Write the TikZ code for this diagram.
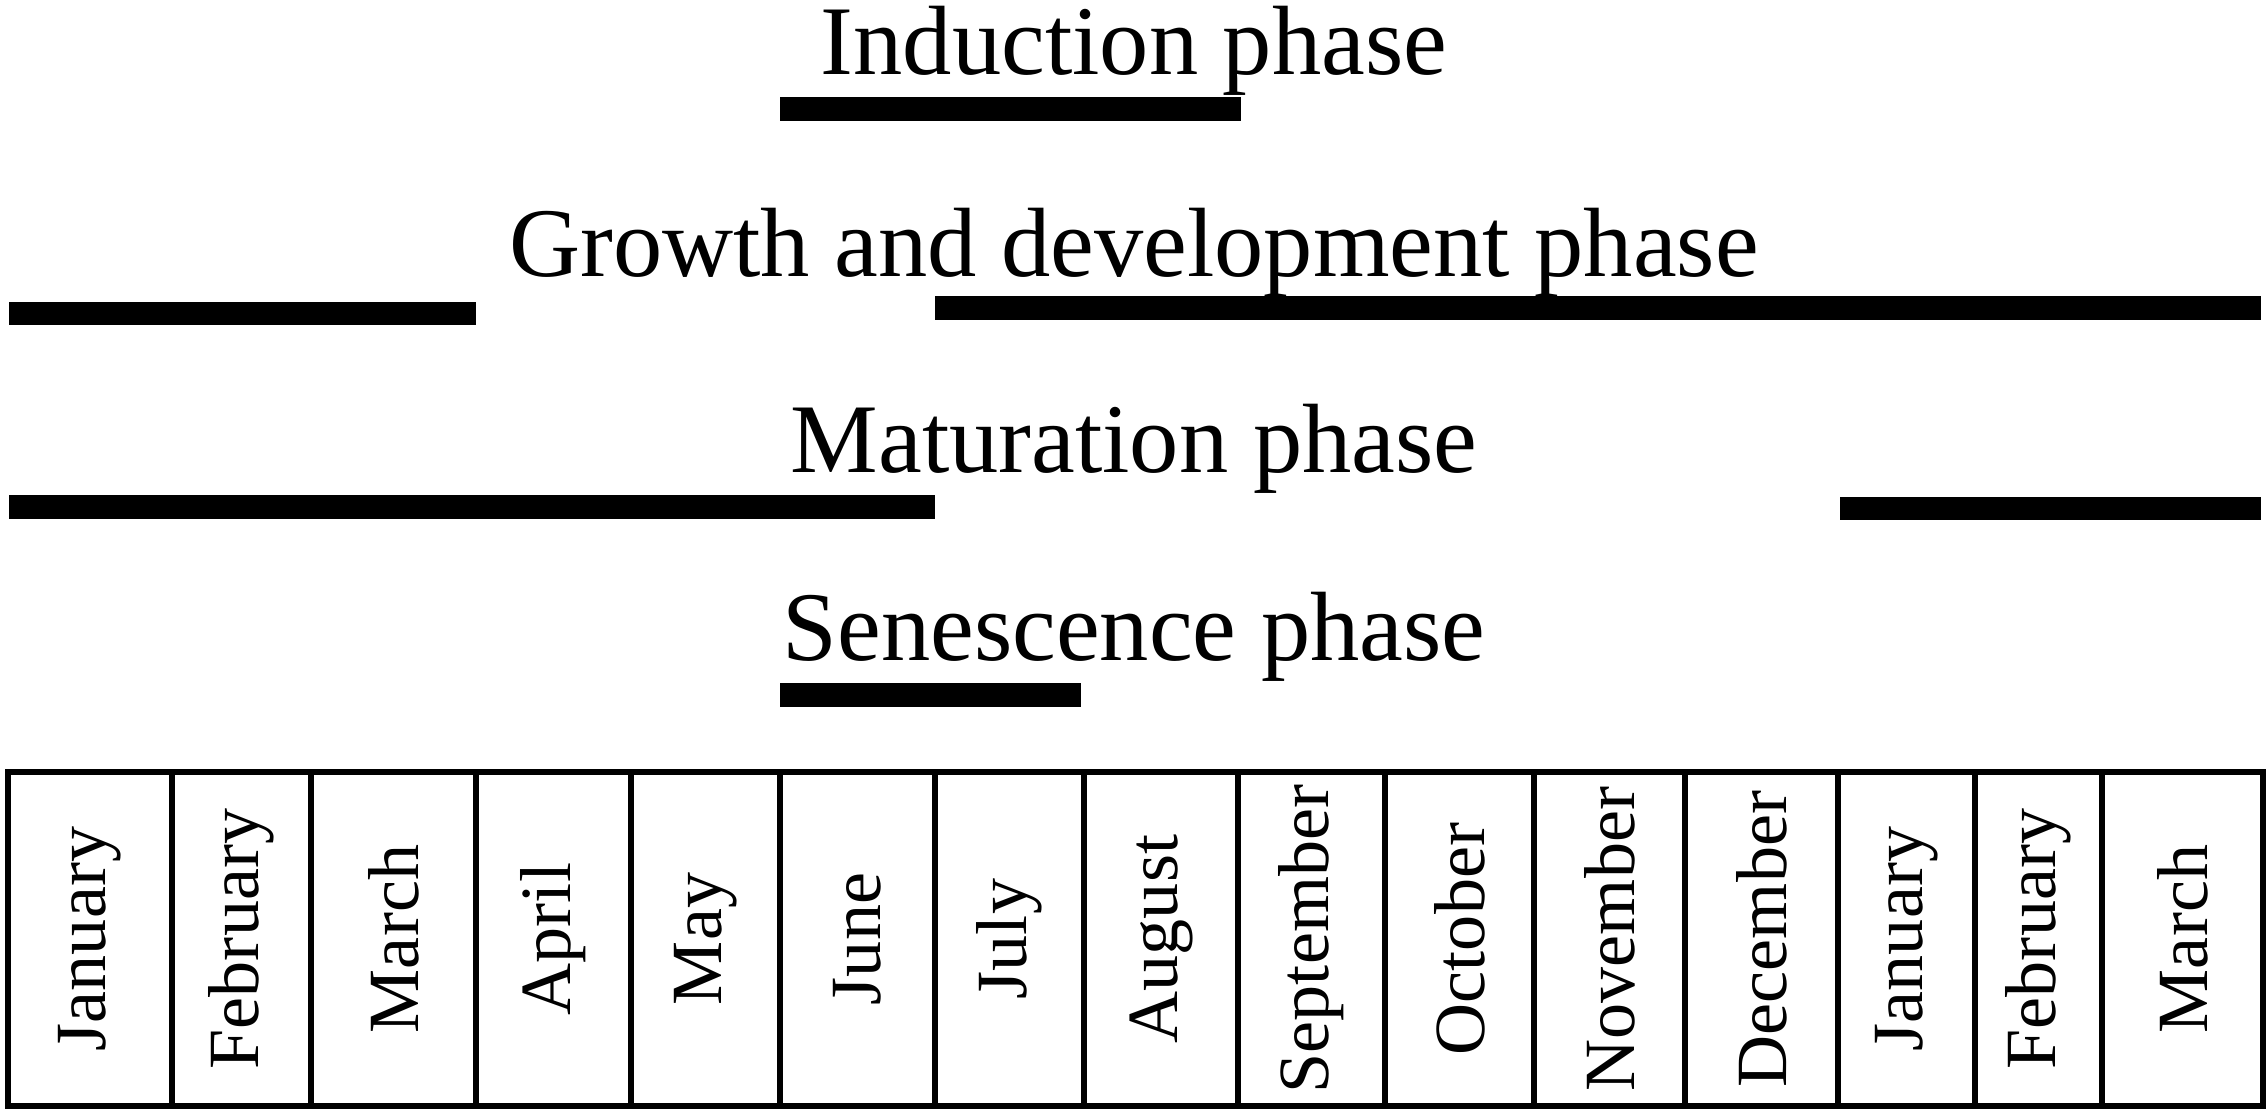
\documentclass[tikz,border=0pt]{standalone}
\usepackage{fontspec}
\setmainfont{Liberation Serif}
\usepackage{tikz}
\tikzstyle{phase} = [anchor=base, 
inner sep=0pt, 
font=\fontsize{28}{30}\selectfont]
\tikzstyle{phasebar} = [fill=black]
\tikzstyle{month} = [rotate=90, 
inner sep=0pt, 
font=\fontsize{20.5}{22}\selectfont]
\tikzstyle{cell} = [draw=black, line width=1.6pt]

\begin{document}
\begin{tikzpicture}[x=0.01cm, y=-0.01cm]
        \useasboundingbox (0,0) rectangle (2267,1115);

        \node (induction) [phase] at (1134,74) {Induction phase};
        \node (growth) [phase] at (1134,276) {Growth and development phase};
        \node (maturation) [phase] at (1134,472) {Maturation phase};
        \node (senescence) [phase] at (1134,660) {Senescence phase};

        \fill [phasebar] (780,97) rectangle (1241,121);
        \fill [phasebar] (9,302) rectangle (476,325);
        \fill [phasebar] (935,296) rectangle (2261,320);
        \fill [phasebar] (9,495) rectangle (935,519);
        \fill [phasebar] (1840,497) rectangle (2261,520);
        \fill [phasebar] (780,683) rectangle (1081,707);

        \foreach \l/\r/\m [count=\i] in {8/172/January, 172/311/February, 311/476/March,
            476/631/April, 631/780/May, 780/935/June, 935/1084/July, 1084/1238/August,
            1238/1385/September, 1385/1534/October, 1534/1685/November, 1685/1838/December,
            1838/1975/January, 1975/2102/February, 2102/2263/March} {
            \draw [cell] (\l,772) rectangle (\r,1106);
            \node (m\i) [month] at ({(\l+\r)/2},939) {\m};
        }
        \draw [line width=1.9pt] (8,772) rectangle (2263,1106);

    \end{tikzpicture}
\end{document}
